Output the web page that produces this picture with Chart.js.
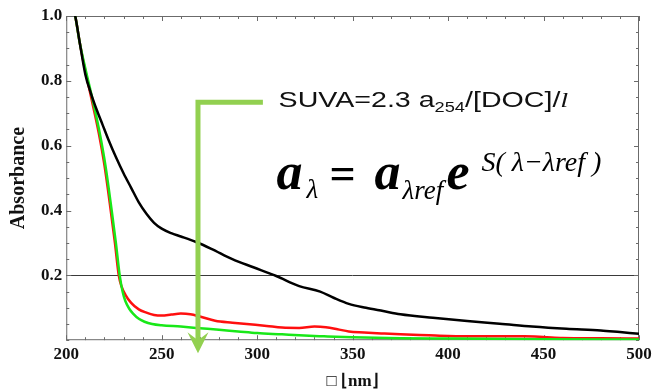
<!DOCTYPE html>
<html>
<head>
<meta charset="utf-8">
<script src="https://cdn.jsdelivr.net/npm/chart.js@4.4.0/dist/chart.umd.min.js"></script>
<style>
  html, body { margin: 0; padding: 0; background: #fff; }
  #wrap { width: 652px; height: 392px; position: relative; }
</style>
</head>
<body>
<div id="wrap"><canvas id="chart"></canvas></div>
<script>
// absorbance spectra, wavelength in nm
const blackNm  = [203, 204.7, 207, 210, 213, 216, 219, 222, 226, 230, 234, 238, 242, 246, 250, 255, 260, 268, 276, 287, 298, 310, 322, 333, 340, 348, 357, 366, 375, 392, 410, 427, 444, 462, 480, 490, 500];
const blackAbs = [1.03, 1.0, 0.92, 0.82, 0.76, 0.71, 0.665, 0.62, 0.565, 0.515, 0.47, 0.425, 0.39, 0.362, 0.344, 0.33, 0.32, 0.303, 0.282, 0.25, 0.225, 0.198, 0.167, 0.150, 0.131, 0.112, 0.100, 0.090, 0.080, 0.069, 0.059, 0.051, 0.042, 0.035, 0.030, 0.025, 0.020];

const redNm  = [203, 204.7, 207, 210, 213, 217, 220, 223.3, 225.5, 227.5, 229, 231, 234, 238, 242, 246, 250, 255, 260, 265, 270, 278, 287, 296, 305, 313, 322, 330, 336, 342, 348, 356, 365, 375, 390, 400, 420, 440, 450, 460, 480, 500];
const redAbs = [1.04, 1.0, 0.92, 0.83, 0.75, 0.64, 0.54, 0.40, 0.30, 0.20, 0.165, 0.14, 0.115, 0.095, 0.085, 0.078, 0.076, 0.079, 0.082, 0.080, 0.073, 0.060, 0.054, 0.049, 0.044, 0.039, 0.038, 0.042, 0.040, 0.034, 0.027, 0.024, 0.021, 0.018, 0.015, 0.013, 0.012, 0.012, 0.010, 0.007, 0.006, 0.005];

const greenNm  = [203, 204.7, 207, 210.3, 213.5, 217.5, 220.5, 223.8, 226, 228, 229.5, 231, 233, 235, 238, 241, 245, 250, 260, 268, 280, 290, 300, 313, 322, 335, 350, 375, 400, 450, 500];
const greenAbs = [1.04, 1.0, 0.92, 0.83, 0.75, 0.64, 0.54, 0.40, 0.30, 0.20, 0.15, 0.12, 0.097, 0.082, 0.066, 0.057, 0.050, 0.046, 0.042, 0.038, 0.032, 0.027, 0.022, 0.018, 0.015, 0.012, 0.009, 0.006, 0.005, 0.003, 0.002];

const xLabelValues = [200, 250, 300, 350, 400, 450, 500];
const yLabelValues = [0.2, 0.4, 0.6, 0.8, 1.0];
const refLine = 0.2;

// SUVA pointer, in axis units
const pointer = { nm: 269, top: 0.734, right: 303, tip: -0.04 };

const serif = "'Liberation Serif', 'Times New Roman', serif";
const sans = "'Liberation Sans', Arial, sans-serif";

const pts = (nm, abs) => nm.map((v, i) => ({ x: v, y: abs[i] }));
const isLabel = (list, v) => list.some(l => Math.abs(l - v) < 1e-6);

// frame with inward ticks, the arrow and the two equations
const overlay = {
  id: 'overlay',
  beforeDatasetsDraw(chart) {
    const { ctx, chartArea: a, scales: { x, y } } = chart;
    ctx.save();
    ctx.strokeStyle = '#6b6b6b';
    ctx.lineWidth = 1;
    ctx.strokeRect(a.left + 0.5, a.top + 0.5, a.right - a.left - 1, a.bottom - a.top - 1);
    ctx.beginPath();
    x.ticks.forEach(t => {
      const px = Math.round(x.getPixelForValue(t.value)) + 0.5;
      const len = isLabel(xLabelValues, t.value) ? 5 : 3;
      ctx.moveTo(px, a.bottom); ctx.lineTo(px, a.bottom - len);
      ctx.moveTo(px, a.top); ctx.lineTo(px, a.top + len);
    });
    y.ticks.forEach(t => {
      const py = Math.round(y.getPixelForValue(t.value)) + 0.5;
      const len = isLabel(yLabelValues, t.value) ? 5 : 3;
      ctx.moveTo(a.left, py); ctx.lineTo(a.left + len, py);
      ctx.moveTo(a.right, py); ctx.lineTo(a.right - len, py);
    });
    ctx.stroke();
    ctx.restore();
  },
  afterDraw(chart) {
    const { ctx, scales: { x, y } } = chart;
    ctx.save();

    // green pointer
    const ax = x.getPixelForValue(pointer.nm);
    const at = y.getPixelForValue(pointer.top);
    const ar = x.getPixelForValue(pointer.right);
    const tip = y.getPixelForValue(pointer.tip);
    ctx.strokeStyle = '#92d050';
    ctx.fillStyle = '#92d050';
    ctx.lineWidth = 5;
    ctx.lineCap = 'butt';
    ctx.beginPath();
    ctx.moveTo(ar, at); ctx.lineTo(ax, at); ctx.lineTo(ax, tip - 12);
    ctx.stroke();
    ctx.beginPath();
    ctx.moveTo(ax, tip);
    ctx.lineTo(ax - 10.5, tip - 21);
    ctx.lineTo(ax, tip - 13);
    ctx.lineTo(ax + 10.5, tip - 21);
    ctx.closePath();
    ctx.fill();

    // SUVA text
    ctx.fillStyle = '#111';
    ctx.textBaseline = 'alphabetic';
    ctx.textAlign = 'left';
    const sx = x.getPixelForValue(311.2), sy = y.getPixelForValue(0.72);
    ctx.save();
    ctx.translate(sx, sy);
    ctx.scale(1.3, 1);
    let cx = 0;
    ctx.font = `22px ${sans}`;
    ctx.fillText('SUVA=2.3 a', cx, 0); cx += ctx.measureText('SUVA=2.3 a').width;
    ctx.font = `14px ${sans}`;
    ctx.fillText('254', cx, 5); cx += ctx.measureText('254').width;
    ctx.font = `22px ${sans}`;
    ctx.fillText('/[DOC]/', cx, 0); cx += ctx.measureText('/[DOC]/').width;
    ctx.font = `italic 22px ${serif}`;
    ctx.fillText('l', cx, 0);
    ctx.restore();

    // absorption model
    const fx = x.getPixelForValue(310.1), fy = y.getPixelForValue(0.467);
    ctx.fillStyle = '#000';
    const part = (txt, font, dx, dy) => { ctx.font = font; ctx.fillText(txt, fx + dx, fy + dy); };
    part('a', `bold italic 52px ${serif}`, 0, 0);
    part('λ', `italic 27px ${serif}`, 30, 9);
    part('=', `bold 46px ${serif}`, 53, 0);
    part('a', `bold italic 52px ${serif}`, 98, 0);
    part('λref', `italic 27px ${serif}`, 126, 10);
    part('e', `bold italic 52px ${serif}`, 170, 0);
    part('S( λ−λref )', `italic 28px ${serif}`, 205, -18);

    ctx.restore();
  }
};

new Chart(document.getElementById('chart'), {
  type: 'line',
  data: {
    datasets: [
      { label: 'black', data: pts(blackNm, blackAbs), borderColor: '#000', borderWidth: 2.5 },
      { label: 'green', data: pts(greenNm, greenAbs), borderColor: '#18e818', borderWidth: 2.5 },
      { label: 'red', data: pts(redNm, redAbs), borderColor: '#ff0f0f', borderWidth: 2.5 }
    ]
  },
  options: {
    responsive: true,
    maintainAspectRatio: false,
    devicePixelRatio: 1,
    animation: false,
    elements: {
      point: { radius: 0 },
      line: { cubicInterpolationMode: 'monotone', fill: false }
    },
    layout: { padding: { left: 0, right: 0, top: 16, bottom: 0 } },
    plugins: { legend: { display: false }, tooltip: { enabled: false } },
    scales: {
      x: {
        type: 'linear',
        min: 200, max: 500,
        border: { display: false },
        grid: { display: false, drawTicks: false },
        // the "500" label may run to the canvas edge
        afterFit: s => { s.paddingRight = 13; },
        ticks: {
          stepSize: 10,
          autoSkip: false,
          maxRotation: 0,
          padding: 4,
          color: '#111',
          font: { family: serif, size: 17, weight: 'bold' },
          callback: v => isLabel(xLabelValues, v) ? String(v) : ''
        },
        title: {
          display: true,
          text: '□ ⌊nm⌋',
          color: '#111',
          font: { family: serif, size: 17, weight: 'bold' },
          padding: { top: 3, bottom: 0 }
        }
      },
      y: {
        type: 'linear',
        min: 0, max: 1,
        border: { display: false },
        grid: {
          drawTicks: false,
          lineWidth: 1,
          color: c => (c.tick && Math.abs(c.tick.value - refLine) < 1e-6) ? '#3a3a3a' : 'rgba(0,0,0,0)'
        },
        ticks: {
          stepSize: 0.05,
          autoSkip: false,
          padding: 4,
          color: '#111',
          font: { family: serif, size: 17, weight: 'bold' },
          callback: v => isLabel(yLabelValues, v) ? v.toFixed(1) : ''
        },
        title: {
          display: true,
          text: 'Absorbance',
          color: '#111',
          font: { family: serif, size: 20, weight: 'bold' },
          padding: { top: 7, bottom: 6 }
        }
      }
    }
  },
  plugins: [overlay]
});
</script>
</body>
</html>
